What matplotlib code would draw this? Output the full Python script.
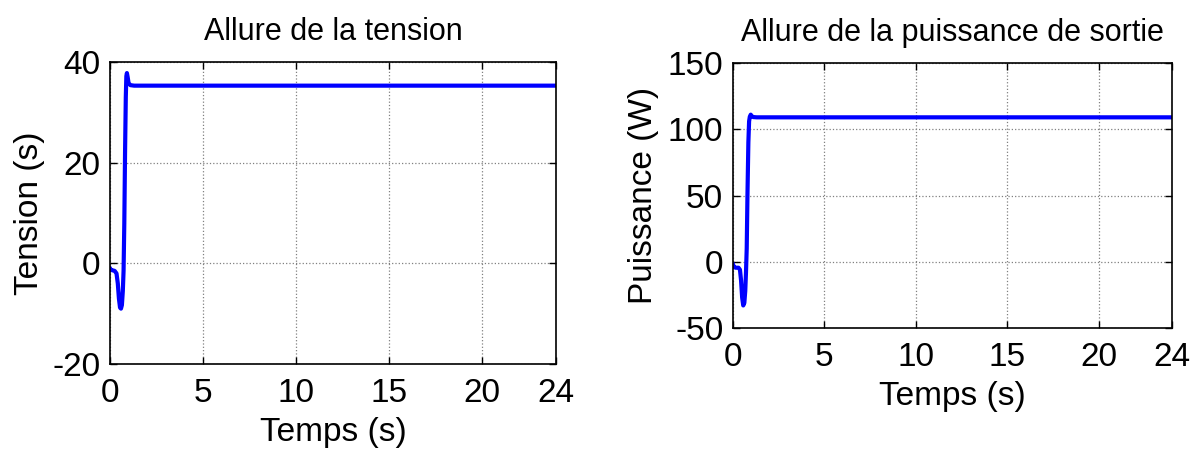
import numpy as np
import matplotlib
matplotlib.use('Agg')
import matplotlib.pyplot as plt

plt.rcParams['font.family'] = ['Liberation Sans', 'DejaVu Sans']
plt.rcParams['axes.unicode_minus'] = False

# Tension
t_tension = [0, 0.05, 0.25, 0.35, 0.42, 0.48, 0.54, 0.59, 0.64, 0.69, 0.73, 0.77,
             0.81, 0.85, 0.88, 0.91, 0.95, 1.0, 1.1, 1.3, 24]
v_tension = [-1.0, -1.3, -1.5, -2.0, -4.0, -7.0, -8.8, -9.0, -8.3, -5.5, -1.5, 8.0,
             22.0, 33.0, 37.2, 37.8, 37.0, 35.8, 35.4, 35.3, 35.3]

# Puissance
t_puiss = [0, 0.05, 0.15, 0.3, 0.38, 0.44, 0.5, 0.56, 0.62, 0.67, 0.71, 0.75,
           0.79, 0.84, 0.88, 0.92, 0.97, 1.02, 1.1, 1.3, 24]
p_puiss = [-2.0, -4.0, -4.5, -4.5, -6.0, -14.0, -27.0, -33.0, -31.0, -22.0, -8.0, 10.0,
           50.0, 90.0, 106.0, 109.5, 111.0, 110.0, 109.2, 109.0, 109.0]

xticks = [0, 5, 10, 15, 20, 24]

fig = plt.figure(figsize=(11.97, 4.49), dpi=100)
ax1 = fig.add_axes([110 / 1197, 1 - 364 / 449, (556 - 110) / 1197, (364 - 62) / 449])
ax2 = fig.add_axes([733 / 1197, 1 - 328 / 449, (1172 - 733) / 1197, (328 - 63) / 449])


def style(ax):
    ax.grid(True, color='#808080', linestyle=':', linewidth=0.9)
    ax.tick_params(direction='in', top=True, right=True, length=5, width=1,
                   labelsize=24)
    ax.tick_params(axis='x', pad=10)
    ax.tick_params(axis='y', pad=7)
    for s in ax.spines.values():
        s.set_linewidth(1.2)
    ax.set_xlim(0, 24)
    ax.set_xticks(xticks)


ax1.plot(t_tension, v_tension, color='#0000ff', linewidth=3)
style(ax1)
ax1.set_ylim(-20, 40)
ax1.set_yticks([-20, 0, 20, 40])
ax1.set_title('Allure de la tension', fontsize=22, pad=16)
ax1.set_xlabel('Temps (s)', fontsize=24, labelpad=5.5)
ax1.set_ylabel('Tension (s)', fontsize=24, labelpad=5)

ax2.plot(t_puiss, p_puiss, color='#0000ff', linewidth=3)
style(ax2)
ax2.set_ylim(-50, 150)
ax2.set_yticks([-50, 0, 50, 100, 150])
ax2.set_title('Allure de la puissance de sortie', fontsize=22, pad=16)
ax2.set_xlabel('Temps (s)', fontsize=24, labelpad=5.5)
ax2.set_ylabel('Puissance (W)', fontsize=24, labelpad=6)

fig.savefig('out.png', dpi=100)
